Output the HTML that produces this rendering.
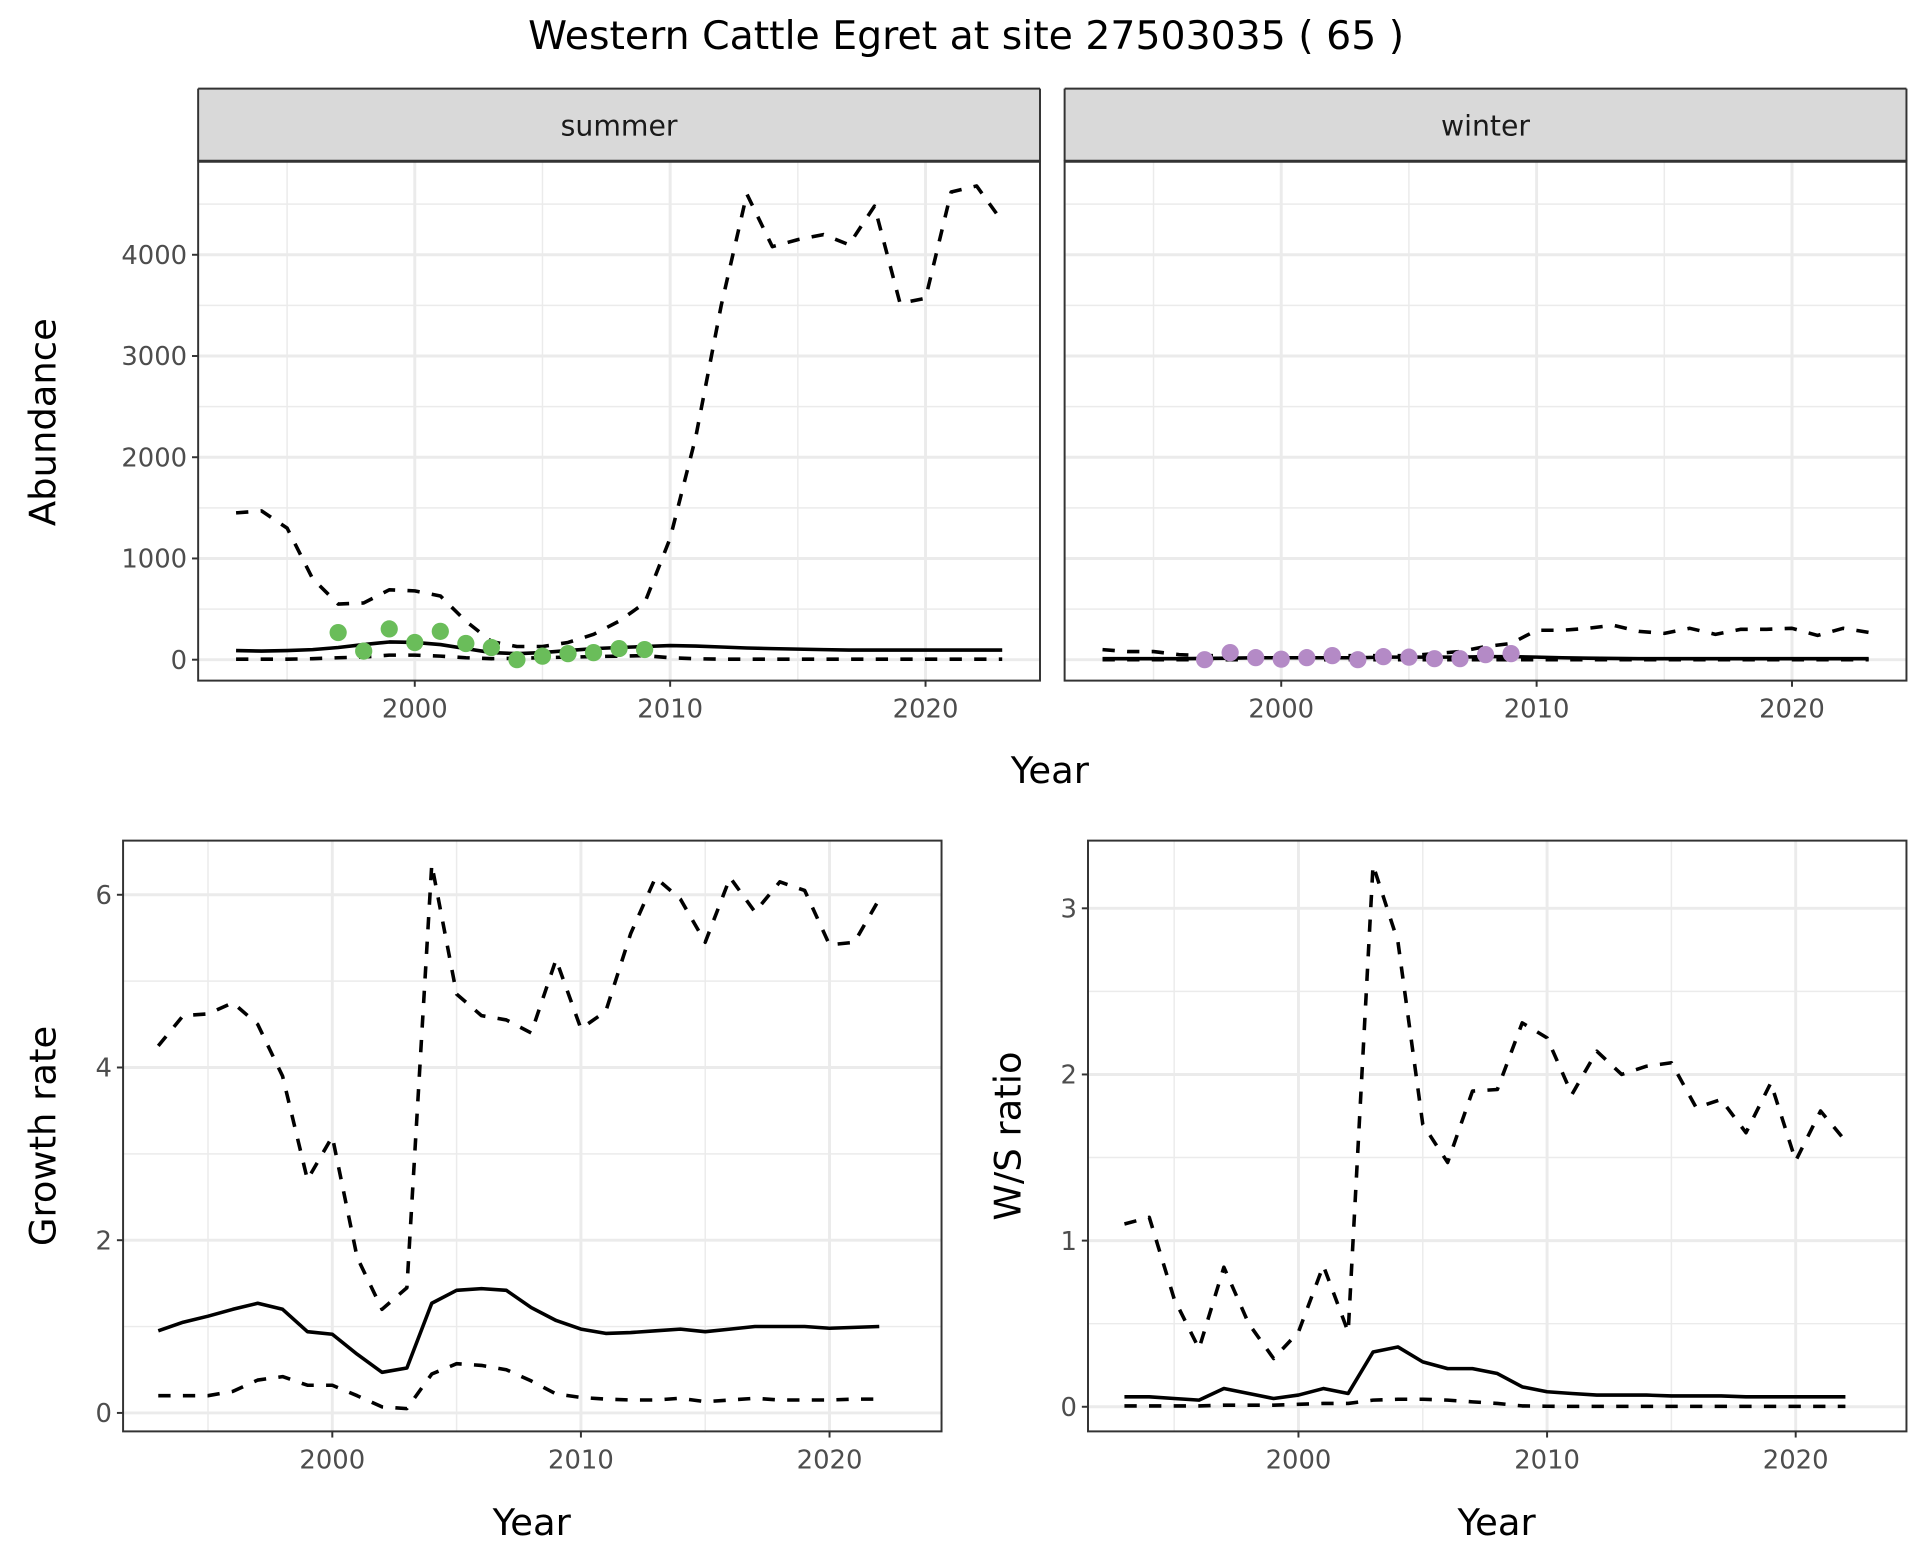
<!DOCTYPE html>
<html><head><meta charset="utf-8"><style>
html,body{margin:0;padding:0;background:#fff}
svg{display:block}
text{font-family:"DejaVu Sans","Liberation Sans",sans-serif}
</style></head><body>
<svg id="c" width="1920" height="1560" viewBox="0 0 1560 1267.5" preserveAspectRatio="none" xmlns="http://www.w3.org/2000/svg">
<text x="785" y="40" font-size="32" text-anchor="middle" fill="#000">Western Cattle Egret at site 27503035 ( 65 )</text>
</svg>
<script>
const yearsA = [1993,1994,1995,1996,1997,1998,1999,2000,2001,2002,2003,2004,2005,2006,2007,2008,2009,2010,2011,2012,2013,2014,2015,2016,2017,2018,2019,2020,2021,2022,2023];
const summerUpper = [1450,1470,1300,800,550,560,690,680,630,380,180,130,130,170,250,380,560,1200,2200,3500,4600,4080,4150,4200,4100,4480,3520,3570,4620,4680,4330];
const summerMean = [90,85,90,100,120,150,175,170,150,110,70,60,70,90,110,120,130,140,135,125,115,110,105,100,95,95,95,95,95,95,95];
const summerLower = [5,5,5,10,20,25,45,45,35,20,10,15,20,25,30,35,40,20,10,5,5,5,5,5,5,5,5,5,5,5,5];
const winterUpper = [100,80,80,50,40,40,40,40,40,40,40,40,40,60,80,130,160,290,290,310,340,280,260,310,250,300,300,310,240,310,270];
const winterMean = [10,10,10,10,12,15,20,20,20,20,20,25,25,25,25,30,30,25,20,15,12,10,10,10,10,10,10,10,10,10,10];
const winterLower = [0,0,0,0,0,0,0,0,0,0,0,0,0,0,0,0,0,0,0,0,0,0,0,0,0,0,0,0,0,0,0];
const obsYears = [1997,1998,1999,2000,2001,2002,2003,2004,2005,2006,2007,2008,2009];
const summerObs = [268,85,304,170,280,160,120,0,35,60,70,110,100];
const winterObs = [0,70,20,5,20,40,0,30,25,10,10,50,60];
const yearsB = [1993,1994,1995,1996,1997,1998,1999,2000,2001,2002,2003,2004,2005,2006,2007,2008,2009,2010,2011,2012,2013,2014,2015,2016,2017,2018,2019,2020,2021,2022];
const growthUpper = [4.25,4.6,4.62,4.75,4.5,3.9,2.7,3.2,1.8,1.2,1.45,6.35,4.85,4.6,4.55,4.4,5.25,4.45,4.65,5.55,6.2,5.95,5.45,6.2,5.8,6.15,6.05,5.42,5.45,5.95];
const growthMean = [0.95,1.05,1.12,1.2,1.27,1.2,0.94,0.91,0.68,0.47,0.52,1.27,1.42,1.44,1.42,1.22,1.07,0.97,0.92,0.93,0.95,0.97,0.94,0.97,1.0,1.0,1.0,0.98,0.99,1.0];
const growthLower = [0.2,0.2,0.2,0.25,0.38,0.42,0.32,0.32,0.2,0.07,0.05,0.45,0.57,0.55,0.5,0.37,0.22,0.18,0.16,0.15,0.15,0.17,0.13,0.15,0.17,0.15,0.15,0.15,0.16,0.16];
const ratioUpper = [1.1,1.14,0.65,0.35,0.84,0.5,0.29,0.45,0.85,0.45,3.26,2.8,1.7,1.47,1.9,1.91,2.31,2.22,1.88,2.14,2.0,2.05,2.07,1.8,1.85,1.65,1.95,1.48,1.78,1.6];
const ratioMean = [0.06,0.06,0.05,0.04,0.11,0.08,0.05,0.07,0.11,0.08,0.33,0.36,0.27,0.23,0.23,0.2,0.12,0.09,0.08,0.07,0.07,0.07,0.065,0.065,0.065,0.06,0.06,0.06,0.06,0.06];
const ratioLower = [0.005,0.005,0.005,0.005,0.01,0.01,0.01,0.015,0.02,0.02,0.04,0.045,0.045,0.04,0.03,0.02,0.005,0.003,0.002,0.002,0.002,0.002,0.002,0.002,0.002,0.002,0.002,0.002,0.002,0.002];
const xTicks = [2000,2010,2020];
const abundTicks = [0,1000,2000,3000,4000];
const growthTicks = [0,2,4,6];
const ratioTicks = [0,1,2,3];

const svg = document.getElementById('c');
const NS = 'http://www.w3.org/2000/svg';
function mk(tag, attrs, parent){const e=document.createElementNS(NS,tag);for(const k in attrs)e.setAttribute(k,attrs[k]);(parent||svg).appendChild(e);return e;}
function lin(d0,d1,r0,r1){return v=>r0+(v-d0)*(r1-r0)/(d1-d0);}

function panel(p){
  const g=mk('g',{});
  
  
  const x=lin(2000,2020,p.x2000,p.x2020), y=lin(0,p.yRefV,p.y0,p.yRefPx);
  mk('rect',{x:p.L,y:p.T,width:p.R-p.L,height:p.B-p.T,fill:'#fff'},g);
  const yrMin=[1995,2005,2015];
  yrMin.forEach(v=>mk('line',{x1:x(v),x2:x(v),y1:p.T,y2:p.B,stroke:'#ebebeb','stroke-width':1.2},g));
  p.yTicks.forEach(v=>{const py=y(v+p.yStep/2);if(py>p.T&&py<p.B)mk('line',{x1:p.L,x2:p.R,y1:py,y2:py,stroke:'#ebebeb','stroke-width':1.2},g);});
  const m0=y(p.yTicks[0]-p.yStep/2); if(m0>p.T&&m0<p.B)mk('line',{x1:p.L,x2:p.R,y1:m0,y2:m0,stroke:'#ebebeb','stroke-width':1.2},g);
  xTicks.forEach(v=>mk('line',{x1:x(v),x2:x(v),y1:p.T,y2:p.B,stroke:'#ebebeb','stroke-width':2.4},g));
  p.yTicks.forEach(v=>mk('line',{x1:p.L,x2:p.R,y1:y(v),y2:y(v),stroke:'#ebebeb','stroke-width':2.4},g));
  const lines=[[p.up,'10,10'],[p.mean,''],[p.lo,'10,10']];
  lines.forEach((s,i)=>{
    const pts=p.years.map((yr,j)=>x(yr).toFixed(1)+','+y(s[0][j]).toFixed(1)).join(' ');
    const l=mk('polyline',{points:pts,fill:'none',stroke:'#000','stroke-width':2.9,'stroke-dasharray':s[1],'stroke-linejoin':'round'},g);
    
    
  });
  if(p.obs){p.obs.forEach((v,j)=>{const c=mk('circle',{cx:x(obsYears[j]),cy:y(v),r:7,fill:p.col},g);
    
    });}
  mk('rect',{x:p.L,y:p.T,width:p.R-p.L,height:p.B-p.T,fill:'none',stroke:'#333','stroke-width':1.6},g);
  xTicks.forEach(v=>{mk('line',{x1:x(v),x2:x(v),y1:p.B,y2:p.B+5,stroke:'#333','stroke-width':1.6},g);
    const t=mk('text',{x:x(v),y:p.B+30,'font-size':21,fill:'#4d4d4d','text-anchor':'middle'},g);t.textContent=v;
    
    });
  if(p.yLabels){p.yTicks.forEach(v=>{mk('line',{x1:p.L-5,x2:p.L,y1:y(v),y2:y(v),stroke:'#333','stroke-width':1.6},g);
    const t=mk('text',{x:p.L-9,y:y(v)+7.5,'font-size':21,fill:'#4d4d4d','text-anchor':'end'},g);t.textContent=v;
    
    });}
  if(p.strip){mk('rect',{x:p.L,y:p.T-59,width:p.R-p.L,height:59,fill:'#d9d9d9'},g);
    mk('line',{x1:p.L,x2:p.R,y1:p.T,y2:p.T,stroke:'#333','stroke-width':2.4},g);
    mk('line',{x1:p.L,x2:p.R,y1:p.T-59,y2:p.T-59,stroke:'#333','stroke-width':1.6},g);
    mk('line',{x1:p.L,x2:p.L,y1:p.T-59,y2:p.T,stroke:'#333','stroke-width':1.6},g);
    mk('line',{x1:p.R,x2:p.R,y1:p.T-59,y2:p.T,stroke:'#333','stroke-width':1.6},g);
    const t=mk('text',{x:(p.L+p.R)/2,y:p.T-21,'font-size':23,fill:'#1a1a1a','text-anchor':'middle'},g);t.textContent=p.strip;
    
    }
}
function label(txt,xx,yy,rot,name){const t=mk('text',{x:xx,y:yy,'font-size':30,fill:'#000','text-anchor':'middle',transform:rot?`rotate(-90 ${xx} ${yy})`:''});t.textContent=txt;
  
  }

panel({name:'summer-panel',L:161,R:845,T:131,B:553,x2000:337,x2020:752,y0:536,yRefV:4000,yRefPx:207,yTicks:abundTicks,yStep:1000,years:yearsA,up:summerUpper,mean:summerMean,lo:summerLower,obs:summerObs,col:'#6abd5a',yLabels:true,strip:'summer'});
panel({name:'winter-panel',L:865,R:1549,T:131,B:553,x2000:1041,x2020:1456,y0:536,yRefV:4000,yRefPx:207,yTicks:abundTicks,yStep:1000,years:yearsA,up:winterUpper,mean:winterMean,lo:winterLower,obs:winterObs,col:'#b48ac6',yLabels:false,strip:'winter'});
panel({name:'growth-panel',L:100,R:765,T:683,B:1163,x2000:270,x2020:674,y0:1148,yRefV:6,yRefPx:727,yTicks:growthTicks,yStep:2,years:yearsB,up:growthUpper,mean:growthMean,lo:growthLower,yLabels:true});
panel({name:'ratio-panel',L:884,R:1549,T:683,B:1163,x2000:1055,x2020:1459,y0:1143,yRefV:3,yRefPx:738,yTicks:ratioTicks,yStep:1,years:yearsB,up:ratioUpper,mean:ratioMean,lo:ratioLower,yLabels:true});
label('Year',853,636,false,'x-axis-title-top');
label('Abundance',45,343,true,'y-axis-title-abundance');
label('Year',432,1247,false,'x-axis-title-growth');
label('Growth rate',45,923,true,'y-axis-title-growth');
label('Year',1216,1247,false,'x-axis-title-ratio');
label('W/S ratio',829,923,true,'y-axis-title-ratio');
</script>
</body></html>
